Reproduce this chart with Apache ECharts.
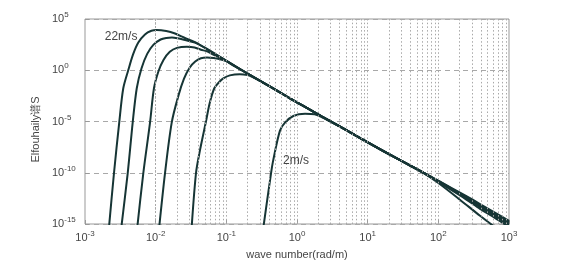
<!DOCTYPE html>
<html><head><meta charset="utf-8">
<script src="https://cdn.jsdelivr.net/npm/echarts@6/dist/echarts.min.js"></script>
<style>html,body{margin:0;padding:0;background:#fff}#c{width:586px;height:265px}</style>
</head><body><div id="c"></div>
<script>
// Wind speeds (labels) and read-off curve values: wave number k (rad/m) and spectrum S
const windLabels = ['22m/s', '18m/s', '14m/s', '10m/s', '6m/s', '2m/s'];

const k22 = [2.14e-3, 2.57e-3, 3.05e-3, 3.48e-3, 4.1e-3, 4.79e-3, 5.68e-3, 7.06e-3, 8.71e-3, 1.035e-2, 1.41e-2, 1.88e-2, 2.51e-2, 3.6e-2, 5.32e-2, 8.6e-2, 0.1667, 0.269, 0.501, 0.796, 1.3, 2.23, 4.52, 14.9, 31.6, 61.2, 100, 246, 389, 631, 1000];
const s22 = [1e-16, 8.9e-11, 7.9e-6, 1.74e-2, 1.05, 35.5, 513, 3.16e3, 7.08e3, 8.3e3, 6.6e3, 3.8e3, 1.58e3, 550, 120, 15.8, 1.0, 0.145, 1.2e-2, 1.82e-3, 2.69e-4, 3.24e-5, 2.14e-6, 2.0e-8, 1.2e-9, 1.05e-10, 1.66e-11, 5.4e-13, 8.9e-14, 1.32e-14, 2.0e-15];

const k18 = [3.18e-3, 4.02e-3, 4.73e-3, 5.4e-3, 6.31e-3, 7.59e-3, 9.33e-3, 1.175e-2, 1.41e-2, 1.70e-2, 2.04e-2, 2.51e-2, 3.6e-2, 5.32e-2, 8.6e-2, 0.1667, 0.269, 0.501, 0.796, 1.3, 2.23, 4.52, 14.9, 31.6, 61.2, 100, 246, 389, 631, 1000];
const s18 = [1e-16, 8.9e-11, 7.9e-6, 1.74e-2, 1.58, 40, 316, 1000, 1.41e3, 1.55e3, 1.32e3, 955, 500, 115, 15.5, 1.0, 0.145, 1.2e-2, 1.82e-3, 2.69e-4, 3.24e-5, 2.14e-6, 2.0e-8, 1.2e-9, 1.05e-10, 1.58e-11, 4.57e-13, 7.1e-14, 1.05e-14, 1.51e-15];

const k14 = [5.36e-3, 6.68e-3, 8.32e-3, 9.46e-3, 1.096e-2, 1.29e-2, 1.585e-2, 2.0e-2, 2.77e-2, 3.55e-2, 4.37e-2, 5.32e-2, 6.31e-2, 8.6e-2, 0.1667, 0.269, 0.501, 0.796, 1.3, 2.23, 4.52, 14.9, 31.6, 61.2, 100, 246, 389, 631, 1000];
const s14 = [1e-16, 8.9e-11, 7.9e-6, 1.74e-2, 0.79, 10, 63, 151, 195, 166, 100, 70.8, 38, 14.1, 1.0, 0.145, 1.2e-2, 1.82e-3, 2.69e-4, 3.24e-5, 2.14e-6, 2.0e-8, 1.2e-9, 1.05e-10, 1.48e-11, 3.9e-13, 5.6e-14, 7.9e-15, 1.12e-15];

const k10 = [1.096e-2, 1.355e-2, 1.687e-2, 2.09e-2, 2.51e-2, 3.02e-2, 3.63e-2, 4.37e-2, 5.32e-2, 6.61e-2, 8.13e-2, 0.1, 0.126, 0.1667, 0.269, 0.501, 0.796, 1.3, 2.23, 4.52, 14.9, 31.6, 61.2, 100, 246, 389, 631, 1000];
const s10 = [1e-16, 8.9e-11, 7.9e-6, 3.0e-3, 0.141, 1.78, 7.1, 14.8, 17.8, 15.8, 12, 7.6, 2.8, 0.955, 0.14, 1.2e-2, 1.82e-3, 2.69e-4, 3.24e-5, 2.14e-6, 2.0e-8, 1.2e-9, 1.05e-10, 1.38e-11, 3.24e-13, 4.17e-14, 5.9e-15, 7.9e-16];

const k6 = [3.18e-2, 3.72e-2, 4.24e-2, 5.15e-2, 5.82e-2, 6.76e-2, 7.94e-2, 9.06e-2, 0.112, 0.155, 0.2, 0.24, 0.283, 0.355, 0.501, 0.796, 1.3, 2.23, 4.52, 14.9, 31.6, 61.2, 100, 246, 389, 631, 1000];
const s6 = [1e-16, 8.9e-11, 1.62e-8, 1e-5, 6.3e-4, 1.74e-2, 7.1e-2, 0.158, 0.316, 0.417, 0.339, 0.209, 0.112, 4.68e-2, 1.17e-2, 1.78e-3, 2.69e-4, 3.24e-5, 2.14e-6, 2.0e-8, 1.2e-9, 1.05e-10, 1.26e-11, 2.57e-13, 3.0e-14, 4.0e-15, 5.0e-16];

const k2 = [0.324, 0.429, 0.462, 0.574, 0.676, 0.887, 1.30, 1.78, 2.23, 3.16, 4.52, 14.9, 31.6, 61.2, 100, 200, 389, 631];
const s2 = [1e-16, 8.9e-11, 1.82e-9, 1.29e-6, 7.9e-6, 3.47e-5, 5.75e-5, 5.0e-5, 2.63e-5, 7.6e-6, 2.0e-6, 1.9e-8, 1.15e-9, 9.5e-11, 1e-11, 2.5e-13, 6.3e-15, 5e-16];

// Annotation anchor points (data space)
const label22At = [3.24e-3, 2.1e3];
const label2At = [0.97, 1.5e-9];

const curves = [[k22, s22], [k18, s18], [k14, s14], [k10, s10], [k6, s6], [k2, s2]];

const FONT = 'Liberation Sans, Arial, sans-serif';
const TXT = '#454545';
const GRIDC = '#a8a8a8';

function powLabel(v) {
  const e = Math.round(Math.log10(v));
  return '{b|10}{s|' + e + '}';
}
const rich = {
  b: { fontSize: 11, fontFamily: FONT, color: TXT, lineHeight: 14 },
  s: { fontSize: 8, fontFamily: FONT, color: TXT, padding: [0, 0, 8, 0] }
};

// vertical grid positions (1..9 x each decade inside the axis range)
const vLines = [];
for (let d = -3; d <= 2; d++) {
  for (let m = 1; m <= 9; m++) {
    if (d === -3 && m === 1) continue;
    vLines.push({ xAxis: m * Math.pow(10, d) });
  }
}

function textMark(text, at) {
  return { symbol: 'circle', symbolSize: 0, silent: true,
    label: { show: true, position: 'inside', formatter: text, fontSize: 12, fontFamily: FONT, color: TXT },
    data: [{ coord: at }] };
}

const series = curves.map(function (c, i) {
  const s = {
    type: 'line',
    name: windLabels[i],
    data: c[0].map(function (k, j) { return [k, c[1][j]]; }),
    showSymbol: false,
    symbol: 'none',
    smooth: 0.3,
    clip: true,
    z: 3,
    lineStyle: { color: '#163535', width: 2 }
  };
  if (i === 0) s.markPoint = textMark(windLabels[0], label22At);
  if (i === 5) s.markPoint = textMark(windLabels[5], label2At);
  return s;
});
series.push({
  type: 'line', data: [], z: 1, silent: true,
  markLine: { silent: true, symbol: ['none', 'none'], label: { show: false },
    lineStyle: { color: GRIDC, type: [1.5, 2.2], width: 1 }, animation: false, data: vLines }
});

const chart = echarts.init(document.getElementById('c'), null, { renderer: 'canvas' });
chart.setOption({
  animation: false,
  backgroundColor: '#fff',
  grid: { left: 85, right: 77, top: 19, bottom: 36, show: true, borderColor: '#999', borderWidth: 1, backgroundColor: 'transparent' },
  xAxis: {
    type: 'log', logBase: 10, min: 1e-3, max: 1e3,
    name: 'wave number(rad/m)', nameLocation: 'middle', nameGap: 25,
    nameTextStyle: { fontSize: 11, fontFamily: FONT, color: TXT },
    axisLine: { show: false },
    axisTick: { show: true, inside: true, length: 4, lineStyle: { color: '#999' } },
    axisLabel: { formatter: powLabel, rich: rich, margin: 6 },
    splitLine: { show: false }
  },
  yAxis: {
    type: 'log', logBase: 100000, min: 1e-15, max: 1e5,
    name: 'Elfouhaily谱S', nameLocation: 'middle', nameGap: 43, nameRotate: 90,
    nameTextStyle: { fontSize: 11, fontFamily: FONT, color: TXT, padding: [0, 16, 0, 0] },
    axisLine: { show: false },
    axisTick: { show: true, inside: true, length: 4, lineStyle: { color: '#999' } },
    axisLabel: { formatter: powLabel, rich: rich, margin: 33, align: 'left' },
    splitLine: { show: true, lineStyle: { color: GRIDC, type: [5, 4], width: 1 } }
  },
  series: series
});
</script>
</body></html>
